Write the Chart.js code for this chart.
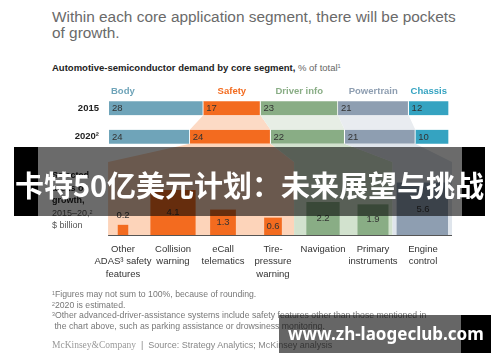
<!DOCTYPE html>
<html>
<head>
<meta charset="utf-8">
<script src="https://cdn.jsdelivr.net/npm/chart.js@4.4.1/dist/chart.umd.min.js"></script>
<style>
  html, body { margin: 0; padding: 0; background: #fff; }
  body { width: 500px; height: 362px; position: relative; overflow: hidden; font-family: "Liberation Sans", Arial, sans-serif; }
  canvas { position: absolute; left: 0; top: 0; }
  .t { position: absolute; white-space: nowrap; }
  sup { font-size: 60%; line-height: 0; vertical-align: 0.45em; }
  #title { left: 52px; top: 9px; font-size: 15.4px; line-height: 16px; color: #6a6a6a; }
  #sub { left: 52px; top: 62px; font-size: 9.5px; line-height: 12px; color: #666; }
  #sub b { color: #222; }
  #side { left: 52px; top: 169px; font-size: 9px; line-height: 12.5px; color: #555; }
  #side b { color: #222; }
  #notes { left: 52px; top: 289px; font-size: 8.7px; line-height: 10.5px; color: #777; }
  #source { left: 52px; top: 340px; font-size: 9px; line-height: 10px; color: #888; }
  #source .mck { font-family: "Liberation Serif", serif; font-size: 9.5px; color: #999; }
  #banner { position: absolute; left: 14px; top: 147px; width: 471px; height: 69px;
    background: linear-gradient(to right, #000 0 24px, rgba(0,0,0,0.58) 24px 448px, #000 448px); }
  #banner span { position: absolute; left: -20px; width: 511px; top: 17px; text-align: center; white-space: nowrap;
    font-family: "Noto Sans CJK SC", sans-serif; font-weight: bold; font-size: 29px; line-height: 40px; color: #fff; }
  #wm { position: absolute; left: 279px; top: 315px; width: 212px; height: 38px;
    background: linear-gradient(to right, rgba(0,0,0,0.6) 0 182px, #000 182px); }
  #wm span { position: absolute; left: 9px; top: 8px; white-space: nowrap; font-family: "Noto Sans", sans-serif; font-weight: bold;
    font-size: 17px; line-height: 22px; color: #fff; }
</style>
</head>
<body>
<div class="t" id="title">Within each core application segment, there will be pockets<br>of growth.</div>
<div class="t" id="sub"><b>Automotive-semiconductor demand by core segment,</b> % of total<sup>1</sup></div>
<canvas id="topChart" width="500" height="362"></canvas>
<canvas id="growthChart" width="500" height="362"></canvas>
<div class="t" id="side"><b>Selected<br>areas of<br>growth,</b><br>2015–20,<sup>2</sup><br>$ billion</div>
<div class="t" id="notes"><sup>1</sup>Figures may not sum to 100%, because of rounding.<br><sup>2</sup>2020 is estimated.<br><sup>3</sup>Other advanced-driver-assistance systems include safety features other than those mentioned in<br>&nbsp;the chart above, such as parking assistance or drowsiness monitoring.</div>
<div class="t" id="source"><span class="mck">McKinsey&amp;Company</span> &nbsp;|&nbsp; Source: Strategy Analytics; McKinsey analysis</div>
<div id="banner"><span>卡特50亿美元计划：未来展望与挑战</span></div>
<div id="wm"><span>www.zh-laogeclub.com</span></div>

<script>
// share of demand, % of total
const years = ['2015', '2020²'];
const segments = ['Body', 'Safety', 'Driver info', 'Powertrain', 'Chassis'];
const share2015 = [28, 17, 23, 21, 12];
const share2020 = [24, 24, 22, 21, 10];
const segColors = ['#6fa4b9', '#f36b1f', '#89ad85', '#8e9eb1', '#35a3c1'];
const linkColors = [null, '#fcdac5', '#e7eee5', '#e9ecf0', null];
const groupBg = [null, '#fdd4ba', '#d2e2ce', '#dfe5ec', null];

// selected areas of growth 2015-20, $ billion
const growthLabels = [
  ['Other', 'ADAS³ safety', 'features'],
  ['Collision', 'warning'],
  ['eCall', 'telematics'],
  ['Tire-', 'pressure', 'warning'],
  ['Navigation'],
  ['Primary', 'instruments'],
  ['Engine', 'control']
];
const growthValues = [0.2, 4.1, 1.3, 0.6, 2.2, 1.9, 5.6];
const growthGroup = [1, 1, 1, 1, 2, 2, 3]; // index into segments

Chart.defaults.font.family = '"Liberation Sans", Arial, sans-serif';
Chart.defaults.animation = false;

const total = Math.max(
  share2015.reduce((a, b) => a + b, 0),
  share2020.reduce((a, b) => a + b, 0)
);

const topPlugin = {
  id: 'topPlugin',
  beforeDatasetsDraw(chart) {
    const ctx = chart.ctx;
    linkColors.forEach((c, i) => {
      if (!c) return;
      const bars = chart.getDatasetMeta(i).data;
      const a = bars[0].getProps(['x', 'y', 'base', 'height'], true);
      const b = bars[1].getProps(['x', 'y', 'base', 'height'], true);
      ctx.save();
      ctx.fillStyle = c;
      ctx.beginPath();
      ctx.moveTo(a.base, a.y + a.height / 2);
      ctx.lineTo(a.x, a.y + a.height / 2);
      ctx.lineTo(b.x, b.y - b.height / 2);
      ctx.lineTo(b.base, b.y - b.height / 2);
      ctx.closePath();
      ctx.fill();
      ctx.restore();
    });
  },
  afterDatasetsDraw(chart) {
    const ctx = chart.ctx;
    ctx.save();
    ctx.textBaseline = 'middle';
    chart.data.datasets.forEach((ds, i) => {
      const bars = chart.getDatasetMeta(i).data;
      bars.forEach((bar, j) => {
        const p = bar.getProps(['x', 'y', 'base', 'height'], true);
        ctx.font = '9.5px "Liberation Sans", Arial, sans-serif';
        ctx.fillStyle = '#333';
        ctx.textAlign = 'left';
        ctx.fillText(ds.data[j], p.base + 3, p.y + 0.5);
        if (j === 0) {
          ctx.font = 'bold 9.5px "Liberation Sans", Arial, sans-serif';
          ctx.fillStyle = segColors[i];
          const hy = p.y - p.height / 2 - 10;
          if (i === 0) {
            ctx.textAlign = 'left';
            ctx.fillText(ds.label, p.base + 2, hy);
          } else {
            ctx.textAlign = 'center';
            ctx.fillText(ds.label, (p.base + p.x) / 2, hy);
          }
        }
      });
    });
    ctx.restore();
  }
};

const topChart = new Chart(document.getElementById('topChart'), {
  type: 'bar',
  data: {
    labels: years,
    datasets: segments.map((s, i) => ({
      label: s,
      data: [share2015[i], share2020[i]],
      backgroundColor: segColors[i],
      borderColor: '#fff',
      borderWidth: { top: 0, bottom: 0, left: 0, right: 1 },
      borderSkipped: false,
      barThickness: 14
    }))
  },
  options: {
    indexAxis: 'y',
    responsive: false,
    events: [],
    layout: { padding: { left: 49, right: 51, top: 94, bottom: 211 } },
    plugins: { legend: { display: false }, tooltip: { enabled: false } },
    scales: {
      x: { stacked: true, min: 0, max: total, display: false },
      y: {
        stacked: true,
        grid: { display: false, drawTicks: false },
        border: { display: false },
        ticks: { padding: 10, color: '#222', font: { size: 9.5, weight: 'bold' } },
        afterFit(scale) { scale.width = 60; }
      }
    }
  },
  plugins: [topPlugin]
});

// squares: side = K * sqrt(value), so the area follows the value
const K = 22;
const AREA_TOP = 150, AREA_BOTTOM = 235;

function squareBox(chart, i) {
  const p = chart.getDatasetMeta(i).data[i].getProps(['x', 'y', 'base', 'width'], true);
  return { left: p.x - p.width / 2, right: p.x + p.width / 2, top: p.y, bottom: p.base, cx: p.x };
}

function groupSpans(chart) {
  const spans = [];
  const groups = [...new Set(growthGroup)];
  groups.forEach(g => {
    const idx = growthGroup.map((gg, i) => gg === g ? i : -1).filter(i => i >= 0);
    const first = squareBox(chart, idx[0]);
    const last = squareBox(chart, idx[idx.length - 1]);
    spans.push({ g, left: first.left, right: last.right });
  });
  // neighbouring groups meet halfway between their squares
  for (let k = 0; k < spans.length - 1; k++) {
    const mid = (spans[k].right + spans[k + 1].left) / 2;
    spans[k].right = mid;
    spans[k + 1].left = mid;
  }
  spans[0].left -= 10;
  spans[spans.length - 1].right += 3;
  return spans;
}

const growthPlugin = {
  id: 'growthPlugin',
  beforeDatasetsDraw(chart) {
    const ctx = chart.ctx;
    const base = chart.chartArea.bottom;
    const fanY = 162;
    groupSpans(chart).forEach(sp => {
      const seg = topChart.getDatasetMeta(sp.g).data[1].getProps(['x', 'y', 'base', 'height'], true);
      const segBottom = seg.y + seg.height / 2;
      ctx.save();
      ctx.fillStyle = groupBg[sp.g];
      ctx.beginPath();
      ctx.moveTo(seg.base, segBottom);
      ctx.lineTo(seg.x, segBottom);
      ctx.lineTo(sp.right, fanY);
      ctx.lineTo(sp.right, base);
      ctx.lineTo(sp.left, base);
      ctx.lineTo(sp.left, fanY);
      ctx.closePath();
      ctx.fill();
      ctx.restore();
    });
  },
  afterDatasetsDraw(chart) {
    const ctx = chart.ctx;
    const spans = groupSpans(chart);
    const base = chart.chartArea.bottom;
    ctx.save();
    ctx.strokeStyle = '#555';
    ctx.lineWidth = 1;
    ctx.beginPath();
    ctx.moveTo(spans[0].left, base + 0.5);
    ctx.lineTo(spans[spans.length - 1].right, base + 0.5);
    ctx.stroke();
    ctx.font = '9.5px "Liberation Sans", Arial, sans-serif';
    ctx.fillStyle = '#333';
    ctx.textAlign = 'center';
    ctx.textBaseline = 'middle';
    growthValues.forEach((v, i) => {
      const b = squareBox(chart, i);
      const side = b.bottom - b.top;
      const y = side >= 14 ? (b.top + b.bottom) / 2 : b.top - 10;
      ctx.fillText(v.toFixed(1), b.cx, y);
    });
    ctx.restore();
  }
};

new Chart(document.getElementById('growthChart'), {
  type: 'bar',
  data: {
    labels: growthLabels,
    datasets: growthValues.map((v, i) => ({
      label: growthLabels[i].join(' '),
      data: growthValues.map((_, j) => (j === i ? Math.sqrt(v) : null)),
      backgroundColor: segColors[growthGroup[i]],
      barThickness: K * Math.sqrt(v),
      grouped: false
    }))
  },
  options: {
    responsive: false,
    events: [],
    layout: { padding: { left: 98, right: 52, top: AREA_TOP, bottom: 362 - AREA_BOTTOM - 60 } },
    plugins: { legend: { display: false }, tooltip: { enabled: false } },
    scales: {
      x: {
        grid: { display: false, drawTicks: false },
        border: { display: false },
        ticks: { padding: 8, color: '#333', autoSkip: false, maxRotation: 0,
          font: { size: 9.5, lineHeight: 1.3 } },
        afterFit(scale) { scale.height = 60; }
      },
      y: { display: false, min: 0, max: (AREA_BOTTOM - AREA_TOP) / K }
    }
  },
  plugins: [growthPlugin]
});
</script>
</body>
</html>
